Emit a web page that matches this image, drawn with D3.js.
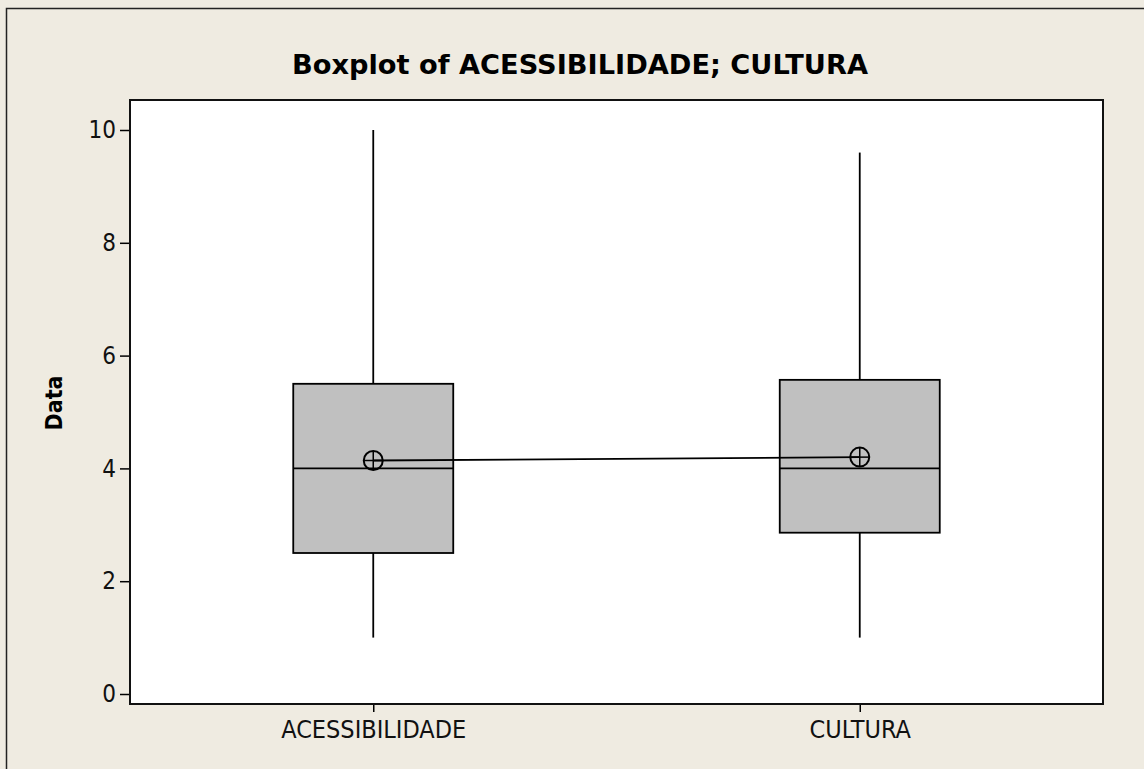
<!DOCTYPE html>
<html lang="pt">
<head>
  <meta charset="UTF-8">
  <title>Boxplot of ACESSIBILIDADE; CULTURA</title>
  <script src="https://d3js.org/d3.v7.min.js"></script>
  <style>
    html, body { margin: 0; padding: 0; background: #efebe1; }
    svg { display: block; }
    svg text { font-family: 'DejaVu Sans Condensed', 'DejaVu Sans', sans-serif; }
  </style>
</head>
<body>
  <div id="chart"></div>
  <script>
    // dados
    const categories = ["ACESSIBILIDADE", "CULTURA"];
    const whiskerLow = [1, 1];
    const q1 = [2.5, 2.86];
    const medians = [4, 4];
    const q3 = [5.5, 5.57];
    const whiskerHigh = [10, 9.6];
    const means = [4.14, 4.2];
    const yTicks = [0, 2, 4, 6, 8, 10];

    const W = 1144, H = 769;
    const plot = { left: 130, top: 100, right: 1103, bottom: 704 };

    const svg = d3.select("#chart").append("svg")
      .attr("width", W).attr("height", H);

    // moldura externa
    svg.append("rect")
      .attr("x", 6.5).attr("y", 8.5)
      .attr("width", W).attr("height", H)
      .attr("fill", "#efebe1").attr("stroke", "#222").attr("stroke-width", 1.5);

    svg.append("rect")
      .attr("x", plot.left).attr("y", plot.top)
      .attr("width", plot.right - plot.left).attr("height", plot.bottom - plot.top)
      .attr("fill", "#fff");

    const x = d3.scalePoint()
      .domain(categories)
      .range([plot.left, plot.right])
      .padding(0.5);

    const y = d3.scaleLinear()
      .domain([0, 10])
      .range([694, 130]);

    const boxHalf = 80;
    const sw = 1.8;

    const data = categories.map((c, i) => ({
      cat: c, lo: whiskerLow[i], q1: q1[i], med: medians[i], q3: q3[i], hi: whiskerHigh[i], mean: means[i]
    }));

    const g = svg.append("g");

    // bigodes
    g.selectAll("line.wh-hi").data(data).enter().append("line")
      .attr("x1", d => x(d.cat)).attr("x2", d => x(d.cat))
      .attr("y1", d => y(d.hi)).attr("y2", d => y(d.q3))
      .attr("stroke", "#000").attr("stroke-width", sw);
    g.selectAll("line.wh-lo").data(data).enter().append("line")
      .attr("x1", d => x(d.cat)).attr("x2", d => x(d.cat))
      .attr("y1", d => y(d.q1)).attr("y2", d => y(d.lo))
      .attr("stroke", "#000").attr("stroke-width", sw);

    // caixas
    g.selectAll("rect.box").data(data).enter().append("rect")
      .attr("x", d => x(d.cat) - boxHalf)
      .attr("y", d => y(d.q3))
      .attr("width", boxHalf * 2)
      .attr("height", d => y(d.q1) - y(d.q3))
      .attr("fill", "#c0c0c0").attr("stroke", "#000").attr("stroke-width", sw);

    g.selectAll("line.med").data(data).enter().append("line")
      .attr("x1", d => x(d.cat) - boxHalf).attr("x2", d => x(d.cat) + boxHalf)
      .attr("y1", d => y(d.med)).attr("y2", d => y(d.med))
      .attr("stroke", "#000").attr("stroke-width", sw);

    // linha das médias
    g.append("path")
      .datum(data)
      .attr("fill", "none").attr("stroke", "#000").attr("stroke-width", sw)
      .attr("d", d3.line().x(d => x(d.cat)).y(d => y(d.mean)));

    const r = 9.5;
    const sym = g.selectAll("g.mean").data(data).enter().append("g")
      .attr("transform", d => `translate(${x(d.cat)},${y(d.mean)})`);
    sym.append("circle").attr("r", r)
      .attr("fill", "none").attr("stroke", "#000").attr("stroke-width", 2);
    sym.append("line").attr("x1", -r).attr("x2", r)
      .attr("stroke", "#000").attr("stroke-width", 1.5);
    sym.append("line").attr("y1", -r).attr("y2", r)
      .attr("stroke", "#000").attr("stroke-width", 1.5);

    // eixos
    const yAxis = svg.append("g")
      .attr("transform", `translate(${plot.left},0)`)
      .call(d3.axisLeft(y).tickValues(yTicks).tickSize(10).tickPadding(4).tickFormat(d3.format("d")))
      .attr("font-family", null).attr("font-size", null);
    yAxis.select(".domain").remove();
    yAxis.selectAll("line").attr("stroke", "#000").attr("stroke-width", 1.5);
    yAxis.selectAll("text").attr("font-size", 24).attr("fill", "#111");

    const xAxis = svg.append("g")
      .attr("transform", `translate(0,${plot.bottom})`)
      .call(d3.axisBottom(x).tickSize(8).tickPadding(8))
      .attr("font-family", null).attr("font-size", null);
    xAxis.select(".domain").remove();
    xAxis.selectAll("line").attr("stroke", "#000").attr("stroke-width", 1.5);
    xAxis.selectAll("text").attr("font-size", 25).attr("fill", "#111");

    // moldura do gráfico
    svg.append("rect")
      .attr("x", plot.left).attr("y", plot.top)
      .attr("width", plot.right - plot.left).attr("height", plot.bottom - plot.top)
      .attr("fill", "none").attr("stroke", "#111").attr("stroke-width", 2);

    svg.append("text")
      .attr("x", 580).attr("y", 74)
      .attr("text-anchor", "middle")
      .attr("font-size", 27).attr("font-weight", "bold").attr("fill", "#000")
      .style("font-family", "'DejaVu Sans', sans-serif")
      .attr("textLength", 576).attr("lengthAdjust", "spacingAndGlyphs")
      .text("Boxplot of ACESSIBILIDADE; CULTURA");

    svg.append("text")
      .attr("transform", "translate(62,403) rotate(-90)")
      .attr("text-anchor", "middle")
      .attr("font-size", 23).attr("font-weight", "bold").attr("fill", "#000")
      .text("Data");
  </script>
</body>
</html>
